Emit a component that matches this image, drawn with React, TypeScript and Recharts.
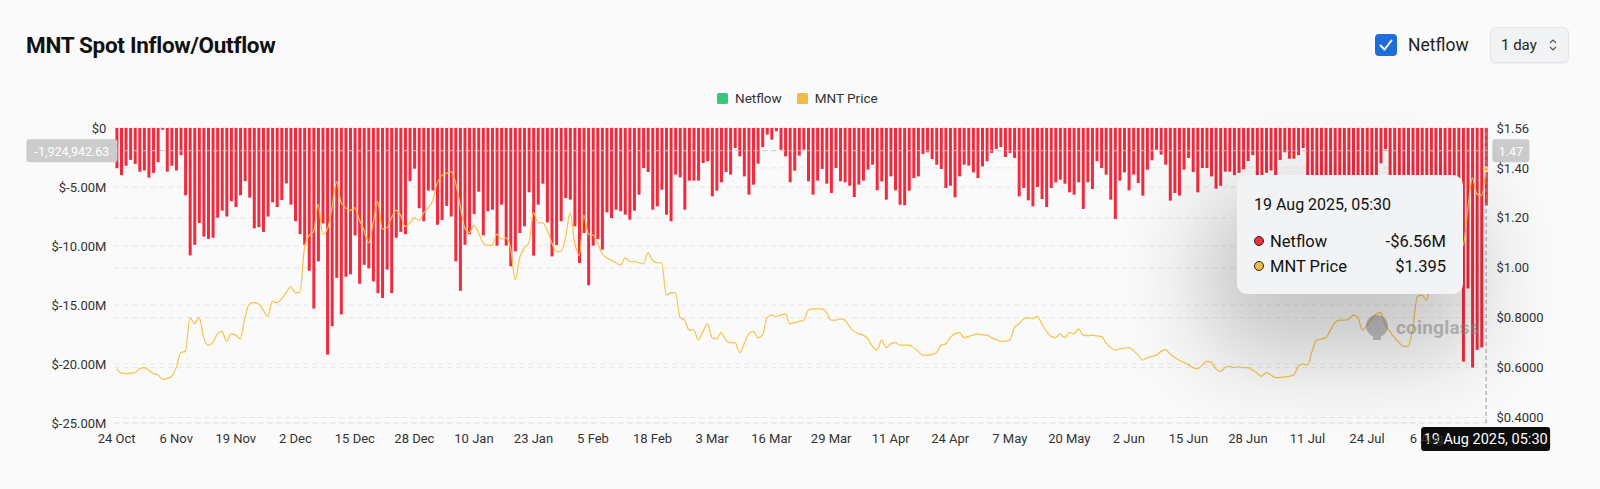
import React from "react";
import {
  Bar,
  CartesianGrid,
  ComposedChart,
  Line,
  ReferenceDot,
  ReferenceLine,
  XAxis,
  YAxis,
} from "recharts";

const MONTHS = ["Jan", "Feb", "Mar", "Apr", "May", "Jun", "Jul", "Aug", "Sep", "Oct", "Nov", "Dec"];
const START_DAY = Date.UTC(2024, 9, 24);

// daily spot netflow, $M (24 Oct 2024 .. 19 Aug 2025)
const netflow = [
  -3.4, -4.0, -3.2, -2.7, -3.05, -3.7, -3.6, -4.2, -3.8, -2.9,
  -0.15, -3.7, -3.2, -3.6, -2.3, -5.7, -10.8, -9.9, -8.05, -9.2,
  -9.4, -9.3, -7.6, -7.0, -7.5, -6.2, -6.7, -5.7, -4.5, -5.9,
  -8.5, -8.4, -8.8, -7.5, -6.3, -6.7, -6.1, -4.7, -6.5, -7.9,
  -9.0, -9.9, -12.1, -15.3, -11.3, -8.1, -19.2, -16.8, -12.7, -15.8,
  -12.6, -12.4, -9.1, -13.2, -11.6, -11.9, -13.0, -14.0, -14.4, -12.0,
  -14.0, -9.3, -8.8, -9.0, -4.5, -3.45, -6.8, -7.9, -5.3, -5.3,
  -8.2, -7.8, -6.6, -7.5, -11.3, -13.8, -9.9, -9.0, -7.3, -5.4,
  -9.1, -7.06, -6.92, -9.97, -6.5, -9.97, -11.72, -10.45, -8.9, -8.33,
  -5.45, -10.82, -6.5, -4.72, -8.0, -10.88, -9.92, -7.91, -5.93, -6.07,
  -8.33, -11.44, -8.9, -13.33, -9.97, -9.41, -10.31, -7.15, -7.63, -6.92,
  -7.06, -7.34, -7.77, -7.01, -5.65, -3.39, -3.73, -6.92, -6.64, -5.23,
  -7.34, -7.91, -3.95, -4.18, -6.92, -4.46, -4.46, -4.46, -2.97, -2.82,
  -5.79, -5.31, -4.6, -3.73, -3.95, -1.69, -2.4, -4.1, -5.65, -4.8,
  -3.02, -1.61, -0.56, -0.99, -0.28, -1.84, -2.4, -4.6, -3.62, -2.34,
  -1.84, -4.52, -5.65, -4.46, -3.47, -4.72, -5.51, -3.39, -4.52, -4.6,
  -4.89, -5.85, -4.8, -4.46, -3.53, -3.11, -5.28, -4.52, -6.07, -4.1,
  -5.28, -6.5, -6.55, -5.31, -4.24, -4.1, -2.2, -2.06, -2.63, -3.11,
  -3.47, -5.08, -4.89, -5.88, -4.1, -3.11, -3.19, -3.76, -4.24, -3.25,
  -2.82, -2.12, -1.78, -1.61, -2.46, -2.12, -2.54, -5.79, -5.08, -6.13,
  -6.64, -5.0, -6.02, -6.69, -5.08, -4.6, -4.38, -4.72, -5.45, -5.65,
  -4.6, -6.86, -4.6, -5.17, -2.82, -3.39, -3.95, -6.07, -7.71, -4.46,
  -3.76, -5.28, -3.95, -4.66, -5.73, -3.53, -2.74, -1.84, -2.26, -3.11,
  -6.16, -5.51, -5.73, -3.53, -2.54, -3.73, -5.45, -3.39, -3.39, -4.1,
  -5.14, -4.9, -3.7, -3.7, -4.0, -3.8, -3.5, -2.8, -2.3, -6.5,
  -5.0, -3.8, -3.6, -5.5, -2.7, -2.06, -2.6, -2.6, -2.3, -1.7,
  -6.2, -7.5, -9.0, -6.8, -8.2, -10.5, -7.4, -6.0, -8.8, -5.9,
  -7.1, -9.6, -6.4, -5.2, -7.8, -4.6, -3.0, -1.8, -5.4, -6.9,
  -8.5, -7.2, -5.8, -9.3, -11.0, -8.6, -12.4, -10.1, -7.7, -9.8,
  -13.0, -11.2, -8.9, -12.6, -19.8, -13.6, -20.3, -18.8, -18.6, -6.56,
];

// MNT price, $
const price = [
  0.595, 0.578, 0.576, 0.578, 0.58, 0.595, 0.6, 0.59, 0.575, 0.57,
  0.553, 0.556, 0.565, 0.6, 0.66, 0.665, 0.8, 0.775, 0.8, 0.72,
  0.69, 0.7, 0.735, 0.745, 0.705, 0.735, 0.73, 0.715, 0.8, 0.855,
  0.86, 0.855, 0.83, 0.805, 0.865, 0.86, 0.875, 0.9, 0.925, 0.9,
  0.9, 1.08, 1.13, 1.145, 1.255, 1.135, 1.155, 1.24, 1.345, 1.26,
  1.24, 1.23, 1.24, 1.19, 1.15, 1.1, 1.18, 1.265, 1.155, 1.16,
  1.2, 1.23, 1.21, 1.165, 1.18, 1.2, 1.19, 1.22, 1.24, 1.27,
  1.34, 1.37, 1.378, 1.385, 1.34, 1.25, 1.16, 1.14, 1.17, 1.14,
  1.1, 1.09, 1.09, 1.135, 1.115, 1.12, 1.08, 0.95, 1.04, 1.08,
  1.1, 1.22, 1.18, 1.18, 1.15, 1.1, 1.065, 1.065, 1.12, 1.22,
  1.1, 1.05, 1.21, 1.135, 1.13, 1.1, 1.055, 1.04, 1.03, 1.02,
  1.01, 1.04, 1.025, 1.025, 1.02, 1.015, 1.06, 1.03, 1.02, 1.02,
  0.89, 0.9, 0.9, 0.8, 0.79, 0.75, 0.75, 0.71, 0.745, 0.775,
  0.72, 0.715, 0.74, 0.71, 0.7, 0.7, 0.66, 0.695, 0.735, 0.745,
  0.72, 0.73, 0.8, 0.81, 0.805, 0.81, 0.815, 0.775, 0.78, 0.785,
  0.79, 0.83, 0.835, 0.835, 0.835, 0.82, 0.79, 0.79, 0.795, 0.79,
  0.765, 0.745, 0.735, 0.73, 0.715, 0.685, 0.67, 0.71, 0.68, 0.695,
  0.7, 0.69, 0.69, 0.69, 0.68, 0.665, 0.65, 0.65, 0.652, 0.66,
  0.69, 0.695, 0.72, 0.735, 0.74, 0.72, 0.725, 0.73, 0.735, 0.732,
  0.73, 0.72, 0.712, 0.705, 0.706, 0.71, 0.76, 0.775, 0.795, 0.8,
  0.795, 0.805, 0.775, 0.745, 0.725, 0.72, 0.735, 0.72, 0.74, 0.735,
  0.755, 0.73, 0.728, 0.73, 0.727, 0.725, 0.7, 0.68, 0.67, 0.675,
  0.678, 0.68, 0.668, 0.65, 0.63, 0.64, 0.645, 0.65, 0.665, 0.672,
  0.655, 0.64, 0.63, 0.62, 0.612, 0.6, 0.595, 0.61, 0.625, 0.62,
  0.595, 0.585, 0.6, 0.605, 0.6, 0.603, 0.6, 0.6, 0.59, 0.578,
  0.565, 0.58, 0.57, 0.56, 0.56, 0.563, 0.565, 0.57, 0.605, 0.615,
  0.61, 0.665, 0.71, 0.715, 0.72, 0.75, 0.78, 0.79, 0.79, 0.795,
  0.81, 0.8, 0.75, 0.77, 0.795, 0.815, 0.82, 0.77, 0.745, 0.72,
  0.7, 0.685, 0.685, 0.76, 0.885, 0.89, 0.87, 0.95, 1.0, 1.04,
  1.0, 1.03, 1.06, 1.08, 1.09, 1.235, 1.36, 1.295, 1.29, 1.395,
];

const leftTicks = [0, -5, -10, -15, -20, -25];
const leftTickLabels = ["$0", "$-5.00M", "$-10.00M", "$-15.00M", "$-20.00M", "$-25.00M"];
const rightTicks = [0.4, 0.6, 0.8, 1.0, 1.2, 1.4, 1.56];
const rightTickLabels = ["$0.4000", "$0.6000", "$0.8000", "$1.00", "$1.20", "$1.40", "$1.56"];

// hover state shown in the screenshot
const hoverNetflow = -1.92494263;
const hoverNetflowLabel = "-1,924,942.63";
const hoverPriceLabel = "1.47";
const hoverDateLabel = "19 Aug 2025, 05:30";
const tooltipRows = [
  { name: "Netflow", value: "-$6.56M", color: "#f0303f" },
  { name: "MNT Price", value: "$1.395", color: "#f2bd45" },
];

const dates = netflow.map((_, i) => {
  const d = new Date(START_DAY + i * 86400000);
  return `${d.getUTCDate()} ${MONTHS[d.getUTCMonth()]}`;
});
const data = dates.map((date, i) => ({ date, netflow: netflow[i], price: price[i] }));
const lastDate = dates[dates.length - 1];
const xTicks = dates.filter((_, i) => i % 13 === 0 && i < dates.length - 1);

const FONT = "Roboto, 'Noto Sans', Arial, sans-serif";
const BAR_RED = "#f22a3d";
const PRICE_YELLOW = "#f8c24b";

function HoverYLabel({ viewBox }: any) {
  const { x, y, width } = viewBox;
  return (
    <g>
      <rect x={x - 88} y={y - 11.5} width={91} height={23} rx={3} fill="#cccccc" />
      <text x={x - 42.5} y={y + 0.5} textAnchor="middle" dominantBaseline="central" fill="#fff" fontSize={12.5} fontFamily={FONT}>
        {hoverNetflowLabel}
      </text>
      <rect x={x + width + 4} y={y - 11.5} width={37} height={23} rx={3} fill="#cccccc" />
      <text x={x + width + 22.5} y={y + 0.5} textAnchor="middle" dominantBaseline="central" fill="#fff" fontSize={12.5} fontFamily={FONT}>
        {hoverPriceLabel}
      </text>
    </g>
  );
}

function HoverXLabel({ viewBox }: any) {
  const { x, y, height } = viewBox;
  const top = y + height + 4;
  return (
    <g>
      <rect x={x - 65} y={top} width={129} height={24} rx={3} fill="#0d0d0d" />
      <text x={x - 0.5} y={top + 12.5} textAnchor="middle" dominantBaseline="central" fill="#fff" fontSize={14.5} fontFamily={FONT}>
        {hoverDateLabel}
      </text>
    </g>
  );
}

function Legend() {
  const items = [
    { name: "Netflow", color: "#37c97b" },
    { name: "MNT Price", color: "#f0bc45" },
  ];
  return (
    <div style={{ position: "absolute", top: 89, left: 717, display: "flex", gap: 15, alignItems: "center" }}>
      {items.map((it) => (
        <div key={it.name} style={{ display: "flex", alignItems: "center", gap: 7 }}>
          <span style={{ width: 11, height: 11, background: it.color, borderRadius: 1.5, display: "inline-block" }} />
          <span style={{ fontSize: 13.5, color: "#333", lineHeight: "18px" }}>{it.name}</span>
        </div>
      ))}
    </div>
  );
}

export default function App() {
  return (
    <div
      style={{
        position: "absolute",
        left: 0,
        top: 0,
        width: 1600,
        height: 489,
        background: "#fafafa",
        fontFamily: FONT,
        overflow: "hidden",
      }}
    >
      <style>{"body{margin:0}"}</style>
      <div style={{ position: "absolute", left: 26, top: 31, fontSize: 22.5, fontWeight: 700, color: "#111", lineHeight: "28px", letterSpacing: -0.3 }}>
        MNT Spot Inflow/Outflow
      </div>

      {/* netflow toggle + interval select */}
      <div style={{ position: "absolute", left: 1375, top: 34, width: 22, height: 22, borderRadius: 4, background: "#1d6ed8" }}>
        <svg width={22} height={22} viewBox="0 0 22 22">
          <path d="M5.5 11.5 L9.5 15.5 L16.5 6.5" stroke="#fff" strokeWidth={2} fill="none" strokeLinecap="round" strokeLinejoin="round" />
        </svg>
      </div>
      <div style={{ position: "absolute", left: 1408, top: 33, fontSize: 17.5, color: "#222", lineHeight: "24px" }}>Netflow</div>
      <div
        style={{
          position: "absolute",
          left: 1490,
          top: 27,
          width: 79,
          height: 36,
          borderRadius: 6,
          background: "#f1f2f4",
          border: "1px solid #e4e6ea",
          boxShadow: "0 1px 2px rgba(0,0,0,0.06)",
          boxSizing: "border-box",
        }}
      >
        <span style={{ position: "absolute", left: 10, top: 7, fontSize: 15, color: "#222", lineHeight: "20px" }}>1 day</span>
        <svg style={{ position: "absolute", left: 57, top: 9 }} width={10} height={16} viewBox="0 0 10 16">
          <path d="M2 6 L5 3 L8 6 M2 10 L5 13 L8 10" stroke="#555" strokeWidth={1.2} fill="none" />
        </svg>
      </div>

      <Legend />

      <div style={{ position: "absolute", left: 0, top: 0 }}>
        <ComposedChart
          width={1600}
          height={489}
          data={data}
          margin={{ top: 128, right: 11.6, bottom: 36, left: 14.4 }}
        >
          <CartesianGrid yAxisId="left" vertical={false} stroke="#e6e6e6" strokeDasharray="5 4" />
          <CartesianGrid yAxisId="right" vertical={false} stroke="#e6e6e6" strokeDasharray="5 4" />
          <XAxis
            dataKey="date"
            ticks={xTicks}
            interval={0}
            tickLine={false}
            axisLine={false}
            tickMargin={5}
            tick={{ fontSize: 13, fill: "#333", fontFamily: FONT }}
          />
          <YAxis
            yAxisId="left"
            orientation="left"
            width={100}
            domain={[-25, 0]}
            ticks={leftTicks}
            interval={0}
            tickLine={false}
            axisLine={false}
            tick={{ fontSize: 13, fill: "#333", fontFamily: FONT }}
            tickFormatter={(v: number) => leftTickLabels[leftTicks.indexOf(v)] ?? ""}
          />
          <YAxis
            yAxisId="right"
            orientation="right"
            width={100}
            domain={[0.378, 1.56]}
            allowDataOverflow
            ticks={rightTicks}
            interval={0}
            tickLine={false}
            axisLine={false}
            tick={{ fontSize: 13, fill: "#333", fontFamily: FONT, textAnchor: "start" }}
            tickFormatter={(v: number) => rightTickLabels[rightTicks.indexOf(v)] ?? ""}
          />
          <Bar yAxisId="left" dataKey="netflow" fill={BAR_RED} barSize={3} isAnimationActive={false} />
          <Line
            yAxisId="right"
            type="monotone"
            dataKey="price"
            stroke={PRICE_YELLOW}
            strokeWidth={1.2}
            dot={false}
            activeDot={false}
            isAnimationActive={false}
          />
          <ReferenceLine
            yAxisId="left"
            y={hoverNetflow}
            stroke="#c4c4c4"
            strokeDasharray="5 4"
            label={(props: any) => <HoverYLabel {...props} />}
          />
          <ReferenceLine
            yAxisId="left"
            x={lastDate}
            stroke="#9a9a9a"
            strokeDasharray="4 3"
            label={(props: any) => <HoverXLabel {...props} />}
          />
          <ReferenceDot yAxisId="right" x={lastDate} y={price[price.length - 1]} r={2.5} fill="#f2bd45" stroke="#fff" strokeWidth={1} />
        </ComposedChart>
      </div>

      {/* watermark */}
      <div style={{ position: "absolute", left: 1364, top: 313, display: "flex", alignItems: "center", gap: 6, opacity: 0.5 }}>
        <svg width={26} height={28} viewBox="0 0 26 28">
          <circle cx={13} cy={13} r={11} fill="#8a8a8a" />
          <rect x={9} y={20} width={8} height={7} fill="#8a8a8a" />
        </svg>
        <span style={{ fontSize: 19, fontWeight: 700, color: "#8a8a8a", letterSpacing: 0.2 }}>coinglass</span>
      </div>

      {/* hover tooltip */}
      <div
        style={{
          position: "absolute",
          left: 1237,
          top: 175,
          width: 226,
          height: 119,
          borderRadius: 10,
          background: "#f2f3f5",
          boxShadow: "-10px 40px 90px 20px rgba(0,0,0,0.22)",
          boxSizing: "border-box",
          padding: "0 17px",
        }}
      >
        <div style={{ position: "absolute", left: 17, top: 19, fontSize: 16, color: "#111", lineHeight: "22px" }}>{hoverDateLabel}</div>
        {tooltipRows.map((r, i) => (
          <div
            key={r.name}
            style={{
              position: "absolute",
              left: 17,
              right: 17,
              top: 55 + i * 25,
              height: 22,
              display: "flex",
              alignItems: "center",
              fontSize: 16.5,
              color: "#111",
            }}
          >
            <span
              style={{
                width: 8,
                height: 8,
                borderRadius: "50%",
                background: r.color,
                border: "1.5px solid #222",
                marginRight: 6,
                display: "inline-block",
              }}
            />
            <span style={{ flex: 1 }}>{r.name}</span>
            <span>{r.value}</span>
          </div>
        ))}
      </div>
    </div>
  );
}
